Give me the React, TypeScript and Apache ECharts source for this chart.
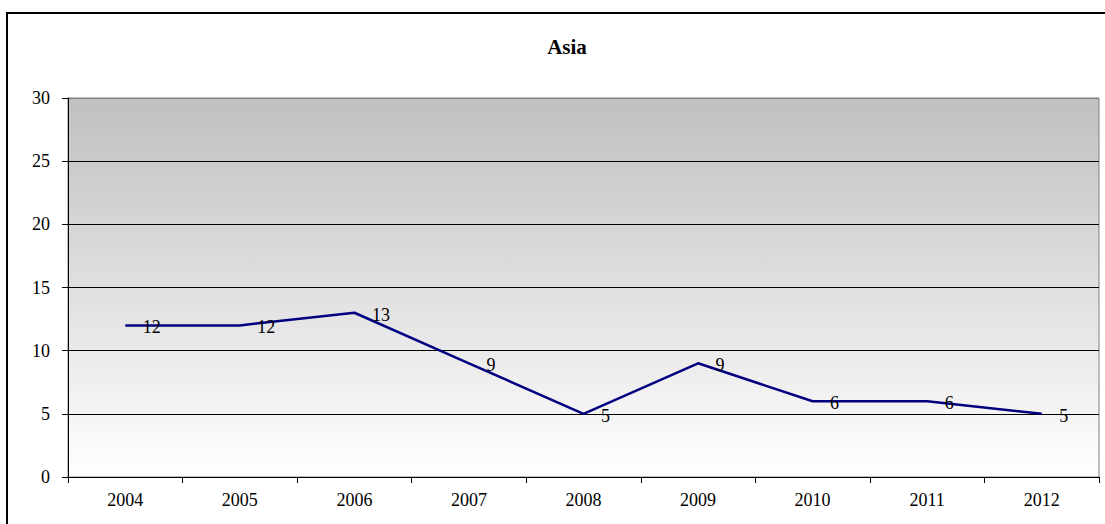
import React, { useEffect, useRef } from "react";
import * as echarts from "echarts";

const categories = ["2004", "2005", "2006", "2007", "2008", "2009", "2010", "2011", "2012"];
const values = [12, 12, 13, 9, 5, 9, 6, 6, 5];
const chartTitle = "Asia";

export default function App() {
  const ref = useRef<HTMLDivElement>(null);
  useEffect(() => {
    if (!ref.current) return;
    const chart = echarts.init(ref.current, null, { renderer: "svg" });
    const font = "Liberation Serif";
    chart.setOption({
      animation: false,
      backgroundColor: "#ffffff",
      title: {
        text: chartTitle,
        left: 562,
        top: 31,
        textAlign: "center",
        textStyle: { fontFamily: font, fontSize: 21, fontWeight: "bold", color: "#000" },
      },
      graphic: [
        {
          type: "rect",
          shape: { x: 7, y: 13, width: 1110, height: 530 },
          style: { fill: "none", stroke: "#000", lineWidth: 2 },
          silent: true,
          z: 100,
        },
      ],
      grid: {
        left: 68,
        top: 98,
        width: 1031,
        height: 379,
        show: true,
        borderColor: "#808080",
        borderWidth: 1,
        backgroundColor: new echarts.graphic.LinearGradient(0, 0, 0, 1, [
          { offset: 0, color: "#c0c0c0" },
          { offset: 1, color: "#ffffff" },
        ]),
      },
      xAxis: {
        type: "category",
        data: categories,
        boundaryGap: true,
        axisLine: { show: true, lineStyle: { color: "#000", width: 1 } },
        axisTick: { show: true, inside: false, length: 6, alignWithLabel: false, lineStyle: { color: "#000" } },
        axisLabel: { fontFamily: font, fontSize: 18, color: "#000", margin: 14 },
        splitLine: { show: false },
      },
      yAxis: {
        type: "value",
        min: 0,
        max: 30,
        interval: 5,
        axisLine: { show: true, lineStyle: { color: "#000", width: 1 } },
        axisTick: { show: true, inside: false, length: 6, lineStyle: { color: "#000" } },
        axisLabel: { fontFamily: font, fontSize: 18, color: "#000", margin: 18 },
        splitLine: {
          show: true,
          lineStyle: {
            color: ["#000", "#000", "#000", "#000", "#000", "#000", "#808080"],
            width: 1,
          },
        },
      },
      series: [
        {
          type: "line",
          data: values,
          symbol: "circle",
          symbolSize: 1,
          showSymbol: true,
          itemStyle: { color: "rgba(0,0,0,0)", borderWidth: 0 },
          lineStyle: { color: "#000080", width: 2.5 },
          label: {
            show: true,
            position: "right",
            distance: 17,
            offset: [0, 2],
            fontFamily: font,
            fontSize: 18,
            color: "#000",
          },
        },
      ],
    });
    return () => chart.dispose();
  }, []);
  return (
    <div
      ref={ref}
      style={{ position: "fixed", left: 0, top: 0, width: 1105, height: 524 }}
    />
  );
}
